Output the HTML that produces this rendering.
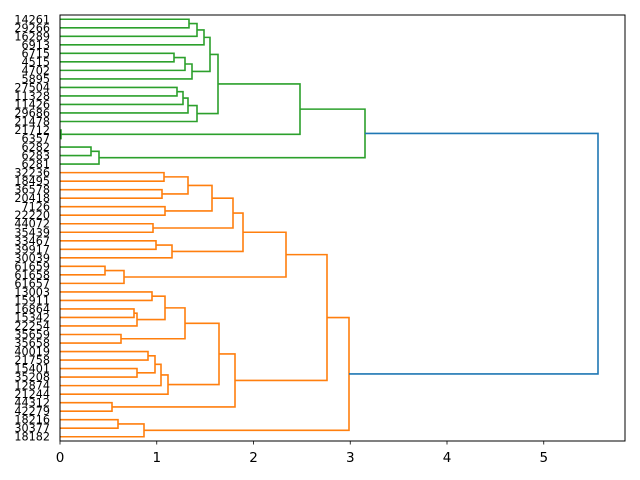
<!DOCTYPE html>
<html><head><meta charset="utf-8"><style>
html,body{margin:0;padding:0;background:#fff;}
svg{display:block;}
text{font-family:"DejaVu Sans","Liberation Sans",sans-serif;}
</style></head><body>
<svg id="s" width="640" height="480" xmlns="http://www.w3.org/2000/svg"></svg>
<script>
var labels="14261 29266 16289 6913 6715 4515 4702 5895 27504 11328 11426 29686 21478 21712 6357 6282 6283 6281 32236 18495 36578 20418 7126 22220 44072 35439 33467 39917 30039 61659 61658 61657 13003 15911 16864 15342 22254 35659 35658 40019 21758 15401 35208 12874 21244 44312 42279 18216 30377 18182".split(" ");
var X0=60,X1=625,Y0=15,Y1=441,sp=(Y1-Y0)/50;
function ly(i){return Y0+sp*(i+0.5);}
var G='#2ca02c',O='#ff7f0e',B='#1f77b4';
var A=[0,1,189],Bb=[A,2,197],C=[Bb,3,204],D=[4,5,174],E=[D,6,185],F=[E,7,192],Gg=[C,F,210],H=[8,9,177],I=[H,10,183],J=[I,11,188],K=[J,12,197],L=[Gg,K,218],M=[13,14,61],N=[L,M,300],Op=[15,16,91],P=[Op,17,99],Q=[N,P,365];
var o1=[18,19,164],o2=[20,21,162],o3=[o1,o2,188],o4=[22,23,165],o5=[o3,o4,212],o6=[24,25,153],o7=[o5,o6,233],o8=[26,27,156],o9=[o8,28,172],o10=[o7,o9,243],o11=[29,30,105],o12=[o11,31,124],o13=[o10,o12,286];
var p1=[32,33,152],p2=[34,35,134],p3=[p2,36,137],p4=[p1,p3,165],p5=[37,38,121],p6=[p4,p5,185],p7=[39,40,148],p8=[41,42,137],p9=[p7,p8,155],p10=[p9,43,161],p11=[p10,44,168],p12=[p6,p11,219],p13=[45,46,112],p14=[p12,p13,235];
var o14=[o13,p14,327],q1=[47,48,118],q2=[q1,49,144],o15=[o14,q2,349],root=[Q,o15,598];
var out='';
function pos(n){if(typeof n==='number')return [X0,ly(n)];return [n[2],n._y];}
function walk(n,c){
 if(typeof n==='number')return;
 walk(n[0],c);walk(n[1],c);
 var a=pos(n[0]),b=pos(n[1]);
 n._y=(a[1]+b[1])/2;
 out+='<polyline fill="none" stroke="'+c+'" stroke-width="1.6" points="'+a[0]+','+a[1]+' '+n[2]+','+a[1]+' '+n[2]+','+b[1]+' '+b[0]+','+b[1]+'"/>';
}
walk(Q,G);walk(o15,O);
var a=pos(Q),b=pos(o15);
out+='<polyline fill="none" stroke="'+B+'" stroke-width="1.6" points="'+a[0]+','+a[1]+' 598,'+a[1]+' 598,'+b[1]+' '+b[0]+','+b[1]+'"/>';
out+='<rect x="'+X0+'" y="'+Y0+'" width="'+(X1-X0)+'" height="'+(Y1-Y0)+'" fill="none" stroke="#000" stroke-width="1"/>';
for(var i=0;i<50;i++){var y=ly(i);
out+='<text x="'+(X0-10)+'" y="'+(y+4)+'" font-size="11.2" text-anchor="end">'+labels[i]+'</text>';}
var u=96.75;
for(var t=0;t<=5;t++){var x=X0+t*u;out+='<line x1="'+x+'" y1="'+Y1+'" x2="'+x+'" y2="'+(Y1+3.5)+'" stroke="#000" stroke-width="0.8"/>';
out+='<text x="'+x+'" y="'+(Y1+21)+'" font-size="13.5" text-anchor="middle">'+t+'</text>';}
document.getElementById('s').innerHTML=out;
</script>
</body></html>
